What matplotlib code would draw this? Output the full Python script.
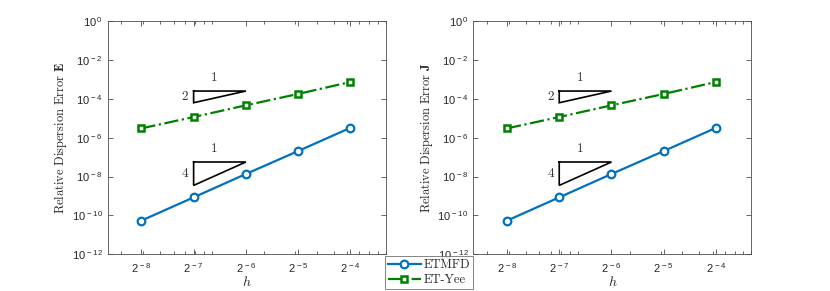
#!/usr/bin/env python3
import numpy as np
import matplotlib
matplotlib.use("Agg")
import matplotlib.pyplot as plt
from matplotlib.ticker import FixedLocator, FixedFormatter, NullLocator, NullFormatter

# ============================================================
# Data
# ============================================================
h = [2.0**-8, 2.0**-7, 2.0**-6, 2.0**-5, 2.0**-4]
h_labels = [r"$2^{\,-8}$", r"$2^{\,-7}$", r"$2^{\,-6}$", r"$2^{\,-5}$", r"$2^{\,-4}$"]

err_E_etmfd = [5.4e-11, 8.5e-10, 1.35e-8, 2.05e-7, 3.2e-6]
err_E_yee = [3.0e-6, 1.15e-5, 4.6e-5, 1.77e-4, 7.3e-4]
err_J_etmfd = [5.4e-11, 8.5e-10, 1.35e-8, 2.05e-7, 3.2e-6]
err_J_yee = [3.0e-6, 1.15e-5, 4.6e-5, 1.77e-4, 7.3e-4]

y_ticks = [1e-12, 1e-10, 1e-8, 1e-6, 1e-4, 1e-2, 1e0]
y_labels = [r"$10^{\,-12}$", r"$10^{\,-10}$", r"$10^{\,-8}$", r"$10^{\,-6}$",
            r"$10^{\,-4}$", r"$10^{\,-2}$", r"$10^{\,0}$"]

# slope triangles: (order, top y value)
TRIANGLES = [(2, 2.5e-4), (4, 5.6e-8)]

BLUE = "#0072BD"
GREEN = "#008000"
AXC = "0.3"

plt.rcParams["mathtext.fontset"] = "cm"
# sans set for the MATLAB-like tick labels
plt.rcParams["mathtext.rm"] = "Liberation Sans"
plt.rcParams["mathtext.it"] = "Liberation Sans:italic"
plt.rcParams["mathtext.bf"] = "Liberation Sans:bold"
plt.rcParams["mathtext.sf"] = "Liberation Sans"


def style_axes(ax, ylabel):
    ax.set_xscale("log")
    ax.set_yscale("log")
    ax.set_xlim(0.0025, 0.1)
    ax.set_ylim(1e-12, 1)

    ax.xaxis.set_major_locator(FixedLocator(h))
    ax.xaxis.set_major_formatter(FixedFormatter(h_labels))
    minors = [k * 10.0**e for e in (-3, -2) for k in range(1, 10)] + [0.1]
    minors = [m for m in minors if 0.0025 <= m <= 0.1]
    ax.xaxis.set_minor_locator(FixedLocator(minors))
    ax.xaxis.set_minor_formatter(NullFormatter())
    ax.yaxis.set_major_locator(FixedLocator(y_ticks))
    ax.yaxis.set_major_formatter(FixedFormatter(y_labels))
    ax.yaxis.set_minor_locator(NullLocator())
    ax.yaxis.set_minor_formatter(NullFormatter())

    ax.tick_params(which="both", direction="in", top=True, right=True,
                   colors=AXC, labelcolor="0.15", labelsize=8, width=0.6)
    ax.tick_params(which="major", length=3.5)
    ax.tick_params(which="minor", length=2)
    ax.tick_params(axis="x", which="major", pad=5)
    for lab in ax.get_xticklabels() + ax.get_yticklabels():
        lab.set_math_fontfamily("custom")
    for s in ax.spines.values():
        s.set_color(AXC)
        s.set_linewidth(0.6)

    ax.set_xlabel(r"$h$", fontsize=10, color="0.15", labelpad=0)
    ax.set_ylabel(ylabel, fontsize=9, color="0.15", labelpad=2)


def add_triangle(ax, order, ytop):
    x0, x1 = h[1], h[2]
    ybot = ytop / 2.0**order
    ax.plot([x0, x1, x0, x0], [ytop, ytop, ybot, ytop], color="black", lw=1.2,
            solid_joinstyle="miter")
    ax.text(np.sqrt(x0 * x1) * 0.93, ytop * 2.4, "1", fontsize=9.5,
            family="cmr10", ha="center", va="bottom", color="0.2")
    ax.text(x0 * 0.93, np.sqrt(ytop * ybot), str(order), fontsize=9.5,
            family="cmr10", ha="right", va="center", color="0.2")


def draw_panel(ax, etmfd, yee, ylabel):
    l1, = ax.plot(h, etmfd, "-o", color=BLUE, lw=1.6, ms=5.5, mew=1.6,
                  mfc="white", label="ETMFD")
    l2, = ax.plot(h, yee, "-.s", color=GREEN, lw=1.6, ms=5, mew=1.8,
                  mfc="white", label="ET-Yee")
    for order, ytop in TRIANGLES:
        add_triangle(ax, order, ytop)
    style_axes(ax, ylabel)
    return l1, l2


def main():
    fig = plt.figure(figsize=(8.3, 2.91), dpi=100)
    ax1 = fig.add_axes([0.1298, 0.1261, 0.335, 0.8017])
    ax2 = fig.add_axes([0.5703, 0.1261, 0.335, 0.8017])

    l1, l2 = draw_panel(ax1, err_E_etmfd, err_E_yee,
                        r"$\mathrm{Relative\ Dispersion\ Error}\ \mathbf{E}$")
    draw_panel(ax2, err_J_etmfd, err_J_yee,
               r"$\mathrm{Relative\ Dispersion\ Error}\ \mathbf{J}$")

    leg = fig.legend([l1, l2], ["ETMFD", "ET-Yee"],
                     loc="lower center", bbox_to_anchor=(429 / 830, 2 / 291),
                     fontsize=9, frameon=True, fancybox=False,
                     borderaxespad=0, handlelength=2.6, handletextpad=0.2,
                     borderpad=0.25, labelspacing=0.2)
    leg.get_frame().set_edgecolor("0.3")
    leg.get_frame().set_linewidth(0.6)
    for t in leg.get_texts():
        t.set_family("cmr10")
        t.set_color("0.15")

    fig.savefig("out.png", dpi=100)
    plt.close(fig)


if __name__ == "__main__":
    main()
